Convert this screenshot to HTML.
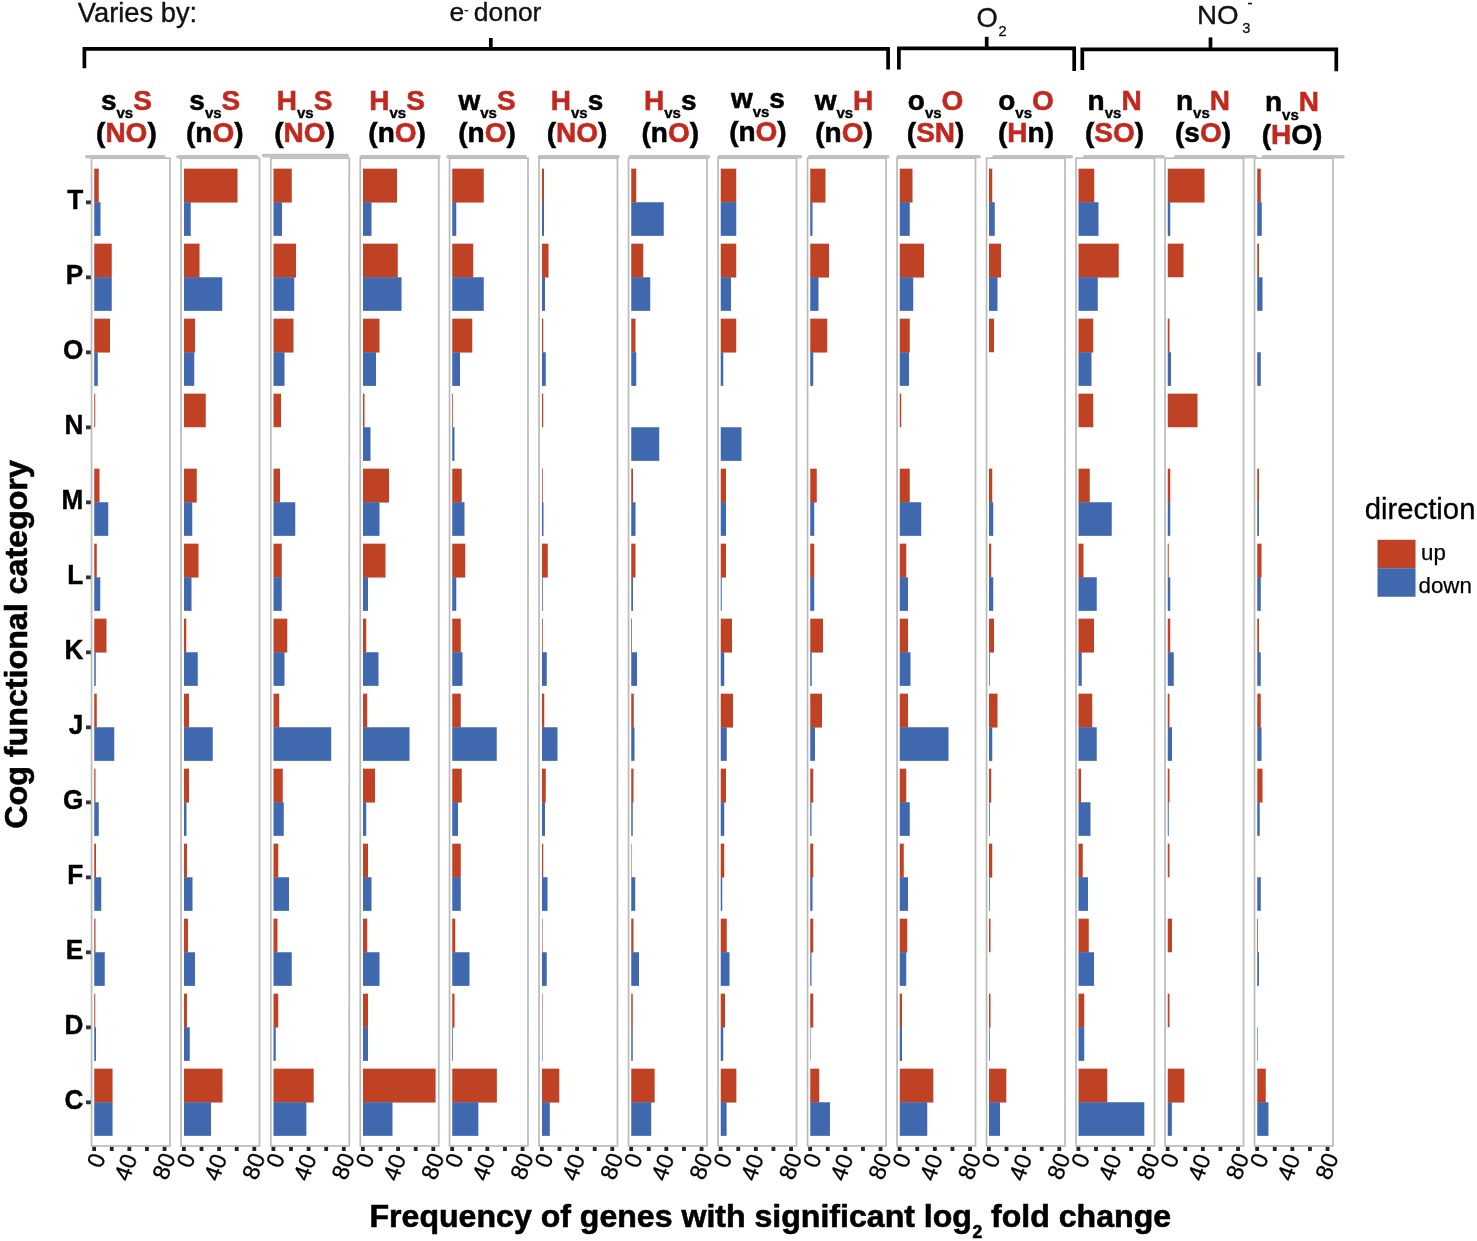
<!DOCTYPE html>
<html><head><meta charset="utf-8"><title>COG functional category frequency</title>
<style>
html,body{margin:0;padding:0;background:#fff;}
body{width:1477px;height:1241px;overflow:hidden;}
svg{display:block;font-family:"Liberation Sans",sans-serif;}
.b{font-weight:bold;}
</style></head><body>
<svg width="1477" height="1241" viewBox="0 0 1477 1241">
<rect width="1477" height="1241" fill="#ffffff"/>

<text x="77.8" y="21.8" font-size="27.3" fill="#111" stroke="#111" stroke-width="0.35">Varies by:</text>
<text x="449.5" y="21.2" font-size="26.4" fill="#111" stroke="#111" stroke-width="0.35">e<tspan font-size="13" dy="-7.2">-</tspan><tspan dy="7.2" dx="-2.0"> donor</tspan></text>
<g fill="#111" stroke="#111" stroke-width="0.3">
<text x="976.6" y="26.8" font-size="27.4">O</text><text x="998.6" y="35.6" font-size="14.6">2</text>
<text x="1196.9" y="23.8" font-size="25" textLength="41.6" lengthAdjust="spacingAndGlyphs">NO</text><text x="1242.2" y="32.5" font-size="14.6">3</text><text x="1247.6" y="8.2" font-size="15">-</text>
</g>
<g fill="none" stroke="#000" stroke-width="3.7" stroke-linejoin="miter">
<path d="M84.4 68.2 V48.8 H888.1 V69.6"/><path d="M490.8 48.8 V38.0"/>
<path d="M898.9 69.5 V48.3 H1074.2 V70.9"/><path d="M986.7 48.3 V36.8"/>
<path d="M1082.3 70.1 V49.4 H1336.3 V71.2"/><path d="M1210.5 49.4 V37.4"/>
</g>
<g class="b" font-size="28" text-anchor="middle" stroke-width="0.55">
<text x="126.4" y="109.7"><tspan fill="#000" stroke="#000">s</tspan><tspan font-size="15" dy="8.6" fill="#000" stroke="#000" stroke-width="0.4">vs</tspan><tspan dy="-8.6" fill="#C3271E" stroke="#C3271E">S</tspan></text>
<text x="126.4" y="142.4"><tspan fill="#000" stroke="#000">(</tspan><tspan fill="#C3271E" stroke="#C3271E">NO</tspan><tspan fill="#000" stroke="#000">)</tspan></text>
<text x="214.8" y="109.7"><tspan fill="#000" stroke="#000">s</tspan><tspan font-size="15" dy="8.6" fill="#000" stroke="#000" stroke-width="0.4">vs</tspan><tspan dy="-8.6" fill="#C3271E" stroke="#C3271E">S</tspan></text>
<text x="214.8" y="142.4"><tspan fill="#000" stroke="#000">(n</tspan><tspan fill="#C3271E" stroke="#C3271E">O</tspan><tspan fill="#000" stroke="#000">)</tspan></text>
<text x="304.6" y="109.7"><tspan fill="#C3271E" stroke="#C3271E">H</tspan><tspan font-size="15" dy="8.6" fill="#000" stroke="#000" stroke-width="0.4">vs</tspan><tspan dy="-8.6" fill="#C3271E" stroke="#C3271E">S</tspan></text>
<text x="304.6" y="142.4"><tspan fill="#000" stroke="#000">(</tspan><tspan fill="#C3271E" stroke="#C3271E">NO</tspan><tspan fill="#000" stroke="#000">)</tspan></text>
<text x="397.1" y="109.7"><tspan fill="#C3271E" stroke="#C3271E">H</tspan><tspan font-size="15" dy="8.6" fill="#000" stroke="#000" stroke-width="0.4">vs</tspan><tspan dy="-8.6" fill="#C3271E" stroke="#C3271E">S</tspan></text>
<text x="397.1" y="142.4"><tspan fill="#000" stroke="#000">(n</tspan><tspan fill="#C3271E" stroke="#C3271E">O</tspan><tspan fill="#000" stroke="#000">)</tspan></text>
<text x="487.0" y="109.7"><tspan fill="#000" stroke="#000">w</tspan><tspan font-size="15" dy="8.6" fill="#000" stroke="#000" stroke-width="0.4">vs</tspan><tspan dy="-8.6" fill="#C3271E" stroke="#C3271E">S</tspan></text>
<text x="487.0" y="142.4"><tspan fill="#000" stroke="#000">(n</tspan><tspan fill="#C3271E" stroke="#C3271E">O</tspan><tspan fill="#000" stroke="#000">)</tspan></text>
<text x="577.0" y="109.7"><tspan fill="#C3271E" stroke="#C3271E">H</tspan><tspan font-size="15" dy="8.6" fill="#000" stroke="#000" stroke-width="0.4">vs</tspan><tspan dy="-8.6" fill="#000" stroke="#000">s</tspan></text>
<text x="577.0" y="142.4"><tspan fill="#000" stroke="#000">(</tspan><tspan fill="#C3271E" stroke="#C3271E">NO</tspan><tspan fill="#000" stroke="#000">)</tspan></text>
<text x="670.3" y="109.7"><tspan fill="#C3271E" stroke="#C3271E">H</tspan><tspan font-size="15" dy="8.6" fill="#000" stroke="#000" stroke-width="0.4">vs</tspan><tspan dy="-8.6" fill="#000" stroke="#000">s</tspan></text>
<text x="670.3" y="142.4"><tspan fill="#000" stroke="#000">(n</tspan><tspan fill="#C3271E" stroke="#C3271E">O</tspan><tspan fill="#000" stroke="#000">)</tspan></text>
<text x="757.9" y="107.9"><tspan fill="#000" stroke="#000">w</tspan><tspan font-size="15" dy="8.6" fill="#000" stroke="#000" stroke-width="0.4">vs</tspan><tspan dy="-8.6" fill="#000" stroke="#000">s</tspan></text>
<text x="757.9" y="140.6"><tspan fill="#000" stroke="#000">(n</tspan><tspan fill="#C3271E" stroke="#C3271E">O</tspan><tspan fill="#000" stroke="#000">)</tspan></text>
<text x="844.0" y="109.7"><tspan fill="#000" stroke="#000">w</tspan><tspan font-size="15" dy="8.6" fill="#000" stroke="#000" stroke-width="0.4">vs</tspan><tspan dy="-8.6" fill="#C3271E" stroke="#C3271E">H</tspan></text>
<text x="844.0" y="142.4"><tspan fill="#000" stroke="#000">(n</tspan><tspan fill="#C3271E" stroke="#C3271E">O</tspan><tspan fill="#000" stroke="#000">)</tspan></text>
<text x="935.6" y="109.7"><tspan fill="#000" stroke="#000">o</tspan><tspan font-size="15" dy="8.6" fill="#000" stroke="#000" stroke-width="0.4">vs</tspan><tspan dy="-8.6" fill="#C3271E" stroke="#C3271E">O</tspan></text>
<text x="935.6" y="142.4"><tspan fill="#000" stroke="#000">(</tspan><tspan fill="#C3271E" stroke="#C3271E">SN</tspan><tspan fill="#000" stroke="#000">)</tspan></text>
<text x="1026.0" y="109.7"><tspan fill="#000" stroke="#000">o</tspan><tspan font-size="15" dy="8.6" fill="#000" stroke="#000" stroke-width="0.4">vs</tspan><tspan dy="-8.6" fill="#C3271E" stroke="#C3271E">O</tspan></text>
<text x="1026.0" y="142.4"><tspan fill="#000" stroke="#000">(</tspan><tspan fill="#C3271E" stroke="#C3271E">H</tspan><tspan fill="#000" stroke="#000">n)</tspan></text>
<text x="1114.6" y="109.7"><tspan fill="#000" stroke="#000">n</tspan><tspan font-size="15" dy="8.6" fill="#000" stroke="#000" stroke-width="0.4">vs</tspan><tspan dy="-8.6" fill="#C3271E" stroke="#C3271E">N</tspan></text>
<text x="1114.6" y="142.4"><tspan fill="#000" stroke="#000">(</tspan><tspan fill="#C3271E" stroke="#C3271E">SO</tspan><tspan fill="#000" stroke="#000">)</tspan></text>
<text x="1203.0" y="109.7"><tspan fill="#000" stroke="#000">n</tspan><tspan font-size="15" dy="8.6" fill="#000" stroke="#000" stroke-width="0.4">vs</tspan><tspan dy="-8.6" fill="#C3271E" stroke="#C3271E">N</tspan></text>
<text x="1203.0" y="142.4"><tspan fill="#000" stroke="#000">(s</tspan><tspan fill="#C3271E" stroke="#C3271E">O</tspan><tspan fill="#000" stroke="#000">)</tspan></text>
<text x="1292.0" y="111.2"><tspan fill="#000" stroke="#000">n</tspan><tspan font-size="15" dy="8.6" fill="#000" stroke="#000" stroke-width="0.4">vs</tspan><tspan dy="-8.6" fill="#C3271E" stroke="#C3271E">N</tspan></text>
<text x="1292.0" y="143.9"><tspan fill="#000" stroke="#000">(</tspan><tspan fill="#C3271E" stroke="#C3271E">H</tspan><tspan fill="#000" stroke="#000">O)</tspan></text>
</g>
<g stroke="#c2c2c2" stroke-width="3.6" stroke-linecap="round">
<path d="M86.7 156.7 H164.0"/>
<path d="M177.9 156.7 H256.5"/>
<path d="M263.5 155.6 H347.2"/>
<path d="M361.2 156.7 H438.9"/>
<path d="M448.1 156.7 H525.3"/>
<path d="M539.5 156.7 H618.0"/>
<path d="M630.3 156.7 H708.7"/>
<path d="M719.2 156.7 H800.6"/>
<path d="M809.4 156.7 H887.8"/>
<path d="M898.3 156.7 H979.2"/>
<path d="M994.0 156.7 H1071.2"/>
<path d="M1084.7 156.7 H1163.1"/>
<path d="M1175.6 156.7 H1255.3"/>
<path d="M1263.3 156.7 H1343.0"/>
</g>
<g fill="#fff" stroke="#bbbbbb" stroke-width="1.7">
<rect x="91.55" y="158.2" width="78.45" height="987.80"/>
<rect x="181.05" y="158.2" width="78.45" height="987.80"/>
<rect x="270.80" y="158.2" width="78.45" height="987.80"/>
<rect x="360.30" y="158.2" width="78.45" height="987.80"/>
<rect x="449.55" y="158.2" width="78.45" height="987.80"/>
<rect x="539.05" y="158.2" width="78.45" height="987.80"/>
<rect x="628.55" y="158.2" width="78.45" height="987.80"/>
<rect x="718.05" y="158.2" width="78.45" height="987.80"/>
<rect x="807.55" y="158.2" width="78.45" height="987.80"/>
<rect x="897.05" y="158.2" width="78.45" height="987.80"/>
<rect x="986.55" y="158.2" width="78.45" height="987.80"/>
<rect x="1076.05" y="158.2" width="78.45" height="987.80"/>
<rect x="1165.05" y="158.2" width="78.45" height="987.80"/>
<rect x="1254.55" y="158.2" width="78.45" height="987.80"/>
</g>
<g fill="#BF4225">
<rect x="94.25" y="168.65" width="4.5" height="33.9"/>
<rect x="94.25" y="243.65" width="17.5" height="33.9"/>
<rect x="94.25" y="318.65" width="15.75" height="33.9"/>
<rect x="94.25" y="393.65" width="1.0" height="33.6"/>
<rect x="94.25" y="468.65" width="5.25" height="33.9"/>
<rect x="94.25" y="543.65" width="2.5" height="33.9"/>
<rect x="94.25" y="618.65" width="12.25" height="33.9"/>
<rect x="94.25" y="693.65" width="2.5" height="33.9"/>
<rect x="94.25" y="768.65" width="1.25" height="33.9"/>
<rect x="94.25" y="843.65" width="1.75" height="33.9"/>
<rect x="94.25" y="918.65" width="1.25" height="33.9"/>
<rect x="94.25" y="993.65" width="1.0" height="33.9"/>
<rect x="94.25" y="1068.65" width="18.3" height="33.9"/>
<rect x="184" y="168.65" width="53.5" height="33.9"/>
<rect x="184" y="243.65" width="15.5" height="33.9"/>
<rect x="184" y="318.65" width="11.0" height="33.9"/>
<rect x="184" y="393.65" width="21.75" height="33.6"/>
<rect x="184" y="468.65" width="12.75" height="33.9"/>
<rect x="184" y="543.65" width="14.5" height="33.9"/>
<rect x="184" y="618.65" width="2.25" height="33.9"/>
<rect x="184" y="693.65" width="5.0" height="33.9"/>
<rect x="184" y="768.65" width="5.0" height="33.9"/>
<rect x="184" y="843.65" width="3.0" height="33.9"/>
<rect x="184" y="918.65" width="4.0" height="33.9"/>
<rect x="184" y="993.65" width="3.0" height="33.9"/>
<rect x="184" y="1068.65" width="38.5" height="33.9"/>
<rect x="273.5" y="168.65" width="18.25" height="33.9"/>
<rect x="273.5" y="243.65" width="22.5" height="33.9"/>
<rect x="273.5" y="318.65" width="20.0" height="33.9"/>
<rect x="273.5" y="393.65" width="7.5" height="33.6"/>
<rect x="273.5" y="468.65" width="6.5" height="33.9"/>
<rect x="273.5" y="543.65" width="8.25" height="33.9"/>
<rect x="273.5" y="618.65" width="13.75" height="33.9"/>
<rect x="273.5" y="693.65" width="5.75" height="33.9"/>
<rect x="273.5" y="768.65" width="9.25" height="33.9"/>
<rect x="273.5" y="843.65" width="4.75" height="33.9"/>
<rect x="273.5" y="918.65" width="4.0" height="33.9"/>
<rect x="273.5" y="993.65" width="4.75" height="33.9"/>
<rect x="273.5" y="1068.65" width="40.2" height="33.9"/>
<rect x="363" y="168.65" width="34.0" height="33.9"/>
<rect x="363" y="243.65" width="34.75" height="33.9"/>
<rect x="363" y="318.65" width="16.5" height="33.9"/>
<rect x="363" y="393.65" width="1.5" height="33.9"/>
<rect x="363" y="468.65" width="26.0" height="33.9"/>
<rect x="363" y="543.65" width="22.5" height="33.9"/>
<rect x="363" y="618.65" width="3.25" height="33.9"/>
<rect x="363" y="693.65" width="4.25" height="33.9"/>
<rect x="363" y="768.65" width="12.0" height="33.9"/>
<rect x="363" y="843.65" width="5.0" height="33.9"/>
<rect x="363" y="918.65" width="4.25" height="33.9"/>
<rect x="363" y="993.65" width="5.0" height="33.9"/>
<rect x="363" y="1068.65" width="72.6" height="33.9"/>
<rect x="452.25" y="168.65" width="31.5" height="33.9"/>
<rect x="452.25" y="243.65" width="21.0" height="33.9"/>
<rect x="452.25" y="318.65" width="20.0" height="33.9"/>
<rect x="452.25" y="393.65" width="0.75" height="33.9"/>
<rect x="452.25" y="468.65" width="9.5" height="33.9"/>
<rect x="452.25" y="543.65" width="13.0" height="33.9"/>
<rect x="452.25" y="618.65" width="8.5" height="33.9"/>
<rect x="452.25" y="693.65" width="8.5" height="33.9"/>
<rect x="452.25" y="768.65" width="9.5" height="33.9"/>
<rect x="452.25" y="843.65" width="8.5" height="33.9"/>
<rect x="452.25" y="918.65" width="3.0" height="33.9"/>
<rect x="452.25" y="993.65" width="2.25" height="33.9"/>
<rect x="452.25" y="1068.65" width="44.6" height="33.9"/>
<rect x="542" y="168.65" width="2.0" height="33.9"/>
<rect x="542" y="243.65" width="6.5" height="33.9"/>
<rect x="542" y="318.65" width="1.25" height="33.9"/>
<rect x="542" y="393.65" width="1.25" height="33.6"/>
<rect x="542" y="468.65" width="0.75" height="33.9"/>
<rect x="542" y="543.65" width="5.75" height="33.9"/>
<rect x="542" y="618.65" width="0.75" height="33.9"/>
<rect x="542" y="693.65" width="2.25" height="33.9"/>
<rect x="542" y="768.65" width="3.75" height="33.9"/>
<rect x="542" y="843.65" width="1.25" height="33.9"/>
<rect x="542" y="918.65" width="0.5" height="33.9"/>
<rect x="542" y="993.65" width="0.5" height="33.9"/>
<rect x="542" y="1068.65" width="17.3" height="33.9"/>
<rect x="631.25" y="168.65" width="5.0" height="33.9"/>
<rect x="631.25" y="243.65" width="12.0" height="33.9"/>
<rect x="631.25" y="318.65" width="4.25" height="33.9"/>
<rect x="631.25" y="468.65" width="1.75" height="33.9"/>
<rect x="631.25" y="543.65" width="4.25" height="33.9"/>
<rect x="631.25" y="618.65" width="0.75" height="33.9"/>
<rect x="631.25" y="693.65" width="2.5" height="33.9"/>
<rect x="631.25" y="768.65" width="2.25" height="33.9"/>
<rect x="631.25" y="843.65" width="0.5" height="33.9"/>
<rect x="631.25" y="918.65" width="2.25" height="33.9"/>
<rect x="631.25" y="993.65" width="1.5" height="33.9"/>
<rect x="631.25" y="1068.65" width="23.4" height="33.9"/>
<rect x="720.75" y="168.65" width="15.5" height="33.9"/>
<rect x="720.75" y="243.65" width="15.5" height="33.9"/>
<rect x="720.75" y="318.65" width="15.5" height="33.9"/>
<rect x="720.75" y="468.65" width="5.25" height="33.9"/>
<rect x="720.75" y="543.65" width="5.25" height="33.9"/>
<rect x="720.75" y="618.65" width="11.25" height="33.9"/>
<rect x="720.75" y="693.65" width="12.25" height="33.9"/>
<rect x="720.75" y="768.65" width="5.25" height="33.9"/>
<rect x="720.75" y="843.65" width="3.5" height="33.9"/>
<rect x="720.75" y="918.65" width="6.0" height="33.9"/>
<rect x="720.75" y="993.65" width="4.25" height="33.9"/>
<rect x="720.75" y="1068.65" width="15.6" height="33.9"/>
<rect x="810.25" y="168.65" width="15.25" height="33.9"/>
<rect x="810.25" y="243.65" width="18.75" height="33.9"/>
<rect x="810.25" y="318.65" width="17.0" height="33.9"/>
<rect x="810.25" y="468.65" width="6.5" height="33.9"/>
<rect x="810.25" y="543.65" width="4.0" height="33.9"/>
<rect x="810.25" y="618.65" width="12.75" height="33.9"/>
<rect x="810.25" y="693.65" width="11.75" height="33.9"/>
<rect x="810.25" y="768.65" width="3.0" height="33.9"/>
<rect x="810.25" y="843.65" width="3.0" height="33.9"/>
<rect x="810.25" y="918.65" width="3.0" height="33.9"/>
<rect x="810.25" y="993.65" width="3.0" height="33.9"/>
<rect x="810.25" y="1068.65" width="9.0" height="33.9"/>
<rect x="899.75" y="168.65" width="12.75" height="33.9"/>
<rect x="899.75" y="243.65" width="24.25" height="33.9"/>
<rect x="899.75" y="318.65" width="10.0" height="33.9"/>
<rect x="899.75" y="393.65" width="1.5" height="33.6"/>
<rect x="899.75" y="468.65" width="10.0" height="33.9"/>
<rect x="899.75" y="543.65" width="6.5" height="33.9"/>
<rect x="899.75" y="618.65" width="8.25" height="33.9"/>
<rect x="899.75" y="693.65" width="8.25" height="33.9"/>
<rect x="899.75" y="768.65" width="6.5" height="33.9"/>
<rect x="899.75" y="843.65" width="4.0" height="33.9"/>
<rect x="899.75" y="918.65" width="7.5" height="33.9"/>
<rect x="899.75" y="993.65" width="2.25" height="33.9"/>
<rect x="899.75" y="1068.65" width="33.6" height="33.9"/>
<rect x="989" y="168.65" width="3.25" height="33.9"/>
<rect x="989" y="243.65" width="12.0" height="33.9"/>
<rect x="989" y="318.65" width="5.0" height="33.6"/>
<rect x="989" y="468.65" width="3.25" height="33.9"/>
<rect x="989" y="543.65" width="2.25" height="33.9"/>
<rect x="989" y="618.65" width="5.0" height="33.9"/>
<rect x="989" y="693.65" width="8.5" height="33.9"/>
<rect x="989" y="768.65" width="2.25" height="33.9"/>
<rect x="989" y="843.65" width="3.25" height="33.9"/>
<rect x="989" y="918.65" width="1.5" height="33.6"/>
<rect x="989" y="993.65" width="1.5" height="33.9"/>
<rect x="989" y="1068.65" width="17.3" height="33.9"/>
<rect x="1078.5" y="168.65" width="15.75" height="33.9"/>
<rect x="1078.5" y="243.65" width="40.25" height="33.9"/>
<rect x="1078.5" y="318.65" width="14.75" height="33.9"/>
<rect x="1078.5" y="393.65" width="14.75" height="33.6"/>
<rect x="1078.5" y="468.65" width="11.25" height="33.9"/>
<rect x="1078.5" y="543.65" width="5.0" height="33.9"/>
<rect x="1078.5" y="618.65" width="15.5" height="33.9"/>
<rect x="1078.5" y="693.65" width="13.75" height="33.9"/>
<rect x="1078.5" y="768.65" width="2.5" height="33.9"/>
<rect x="1078.5" y="843.65" width="4.25" height="33.9"/>
<rect x="1078.5" y="918.65" width="10.25" height="33.9"/>
<rect x="1078.5" y="993.65" width="5.75" height="33.9"/>
<rect x="1078.5" y="1068.65" width="28.8" height="33.9"/>
<rect x="1167.75" y="168.65" width="36.75" height="33.9"/>
<rect x="1167.75" y="243.65" width="15.75" height="33.6"/>
<rect x="1167.75" y="318.65" width="1.75" height="33.9"/>
<rect x="1167.75" y="393.65" width="29.75" height="33.6"/>
<rect x="1167.75" y="468.65" width="2.5" height="33.9"/>
<rect x="1167.75" y="543.65" width="1.0" height="33.9"/>
<rect x="1167.75" y="618.65" width="2.5" height="33.9"/>
<rect x="1167.75" y="693.65" width="1.75" height="33.9"/>
<rect x="1167.75" y="768.65" width="1.75" height="33.9"/>
<rect x="1167.75" y="843.65" width="1.75" height="33.6"/>
<rect x="1167.75" y="918.65" width="4.25" height="33.6"/>
<rect x="1167.75" y="993.65" width="1.75" height="33.6"/>
<rect x="1167.75" y="1068.65" width="16.6" height="33.9"/>
<rect x="1257.25" y="168.65" width="3.5" height="33.9"/>
<rect x="1257.25" y="243.65" width="1.75" height="33.9"/>
<rect x="1257.25" y="468.65" width="1.75" height="33.9"/>
<rect x="1257.25" y="543.65" width="4.25" height="33.9"/>
<rect x="1257.25" y="618.65" width="1.75" height="33.9"/>
<rect x="1257.25" y="693.65" width="3.5" height="33.9"/>
<rect x="1257.25" y="768.65" width="5.25" height="33.9"/>
<rect x="1257.25" y="918.65" width="0.75" height="33.9"/>
<rect x="1257.25" y="1068.65" width="8.5" height="33.9"/>
</g>
<g fill="#3F68AE">
<rect x="94.25" y="202.25" width="6.25" height="33.6"/>
<rect x="94.25" y="277.25" width="17.5" height="33.6"/>
<rect x="94.25" y="352.25" width="3.5" height="33.6"/>
<rect x="94.25" y="502.25" width="14.0" height="33.6"/>
<rect x="94.25" y="577.25" width="6.0" height="33.6"/>
<rect x="94.25" y="652.25" width="1.5" height="33.6"/>
<rect x="94.25" y="727.25" width="20.0" height="33.6"/>
<rect x="94.25" y="802.25" width="4.5" height="33.6"/>
<rect x="94.25" y="877.25" width="7.0" height="33.6"/>
<rect x="94.25" y="952.25" width="10.5" height="33.6"/>
<rect x="94.25" y="1027.25" width="1.75" height="33.6"/>
<rect x="94.25" y="1102.25" width="18.3" height="33.6"/>
<rect x="184" y="202.25" width="6.75" height="33.6"/>
<rect x="184" y="277.25" width="38.25" height="33.6"/>
<rect x="184" y="352.25" width="10.25" height="33.6"/>
<rect x="184" y="502.25" width="8.25" height="33.6"/>
<rect x="184" y="577.25" width="7.5" height="33.6"/>
<rect x="184" y="652.25" width="13.75" height="33.6"/>
<rect x="184" y="727.25" width="28.75" height="33.6"/>
<rect x="184" y="802.25" width="2.5" height="33.6"/>
<rect x="184" y="877.25" width="8.5" height="33.6"/>
<rect x="184" y="952.25" width="11.0" height="33.6"/>
<rect x="184" y="1027.25" width="5.75" height="33.6"/>
<rect x="184" y="1102.25" width="27.0" height="33.6"/>
<rect x="273.5" y="202.25" width="8.5" height="33.6"/>
<rect x="273.5" y="277.25" width="20.75" height="33.6"/>
<rect x="273.5" y="352.25" width="11.0" height="33.6"/>
<rect x="273.5" y="502.25" width="21.75" height="33.6"/>
<rect x="273.5" y="577.25" width="8.25" height="33.6"/>
<rect x="273.5" y="652.25" width="11.0" height="33.6"/>
<rect x="273.5" y="727.25" width="57.75" height="33.6"/>
<rect x="273.5" y="802.25" width="10.25" height="33.6"/>
<rect x="273.5" y="877.25" width="15.5" height="33.6"/>
<rect x="273.5" y="952.25" width="18.25" height="33.6"/>
<rect x="273.5" y="1027.25" width="2.25" height="33.6"/>
<rect x="273.5" y="1102.25" width="32.9" height="33.6"/>
<rect x="363" y="202.25" width="8.5" height="33.6"/>
<rect x="363" y="277.25" width="38.5" height="33.6"/>
<rect x="363" y="352.25" width="13.0" height="33.6"/>
<rect x="363" y="427.25" width="7.5" height="33.6"/>
<rect x="363" y="502.25" width="16.5" height="33.6"/>
<rect x="363" y="577.25" width="5.0" height="33.6"/>
<rect x="363" y="652.25" width="15.5" height="33.6"/>
<rect x="363" y="727.25" width="46.5" height="33.6"/>
<rect x="363" y="802.25" width="3.25" height="33.6"/>
<rect x="363" y="877.25" width="8.5" height="33.6"/>
<rect x="363" y="952.25" width="16.5" height="33.6"/>
<rect x="363" y="1027.25" width="5.0" height="33.6"/>
<rect x="363" y="1102.25" width="29.5" height="33.6"/>
<rect x="452.25" y="202.25" width="4.0" height="33.6"/>
<rect x="452.25" y="277.25" width="31.5" height="33.6"/>
<rect x="452.25" y="352.25" width="7.75" height="33.6"/>
<rect x="452.25" y="427.25" width="2.25" height="33.6"/>
<rect x="452.25" y="502.25" width="12.25" height="33.6"/>
<rect x="452.25" y="577.25" width="4.0" height="33.6"/>
<rect x="452.25" y="652.25" width="10.25" height="33.6"/>
<rect x="452.25" y="727.25" width="44.5" height="33.6"/>
<rect x="452.25" y="802.25" width="5.75" height="33.6"/>
<rect x="452.25" y="877.25" width="8.5" height="33.6"/>
<rect x="452.25" y="952.25" width="17.25" height="33.6"/>
<rect x="452.25" y="1027.25" width="0.75" height="33.6"/>
<rect x="452.25" y="1102.25" width="26.1" height="33.6"/>
<rect x="542" y="202.25" width="2.0" height="33.6"/>
<rect x="542" y="277.25" width="3.0" height="33.6"/>
<rect x="542" y="352.25" width="3.75" height="33.6"/>
<rect x="542" y="502.25" width="1.5" height="33.6"/>
<rect x="542" y="577.25" width="0.75" height="33.6"/>
<rect x="542" y="652.25" width="4.75" height="33.6"/>
<rect x="542" y="727.25" width="15.5" height="33.6"/>
<rect x="542" y="802.25" width="3.0" height="33.6"/>
<rect x="542" y="877.25" width="5.5" height="33.6"/>
<rect x="542" y="952.25" width="4.75" height="33.6"/>
<rect x="542" y="1027.25" width="0.5" height="33.6"/>
<rect x="542" y="1102.25" width="7.8" height="33.6"/>
<rect x="631.25" y="202.25" width="32.5" height="33.6"/>
<rect x="631.25" y="277.25" width="19.0" height="33.6"/>
<rect x="631.25" y="352.25" width="5.0" height="33.6"/>
<rect x="631.25" y="427.25" width="28.0" height="33.6"/>
<rect x="631.25" y="502.25" width="4.25" height="33.6"/>
<rect x="631.25" y="577.25" width="1.75" height="33.6"/>
<rect x="631.25" y="652.25" width="5.75" height="33.6"/>
<rect x="631.25" y="727.25" width="3.25" height="33.6"/>
<rect x="631.25" y="802.25" width="1.5" height="33.6"/>
<rect x="631.25" y="877.25" width="4.0" height="33.6"/>
<rect x="631.25" y="952.25" width="7.75" height="33.6"/>
<rect x="631.25" y="1027.25" width="1.5" height="33.6"/>
<rect x="631.25" y="1102.25" width="20.0" height="33.6"/>
<rect x="720.75" y="202.25" width="15.5" height="33.6"/>
<rect x="720.75" y="277.25" width="10.25" height="33.6"/>
<rect x="720.75" y="352.25" width="2.5" height="33.6"/>
<rect x="720.75" y="427.25" width="20.75" height="33.6"/>
<rect x="720.75" y="502.25" width="5.25" height="33.6"/>
<rect x="720.75" y="577.25" width="1.0" height="33.6"/>
<rect x="720.75" y="652.25" width="3.5" height="33.6"/>
<rect x="720.75" y="727.25" width="6.0" height="33.6"/>
<rect x="720.75" y="802.25" width="3.5" height="33.6"/>
<rect x="720.75" y="877.25" width="1.5" height="33.6"/>
<rect x="720.75" y="952.25" width="8.75" height="33.6"/>
<rect x="720.75" y="1027.25" width="2.5" height="33.6"/>
<rect x="720.75" y="1102.25" width="5.85" height="33.6"/>
<rect x="810.25" y="202.25" width="2.25" height="33.6"/>
<rect x="810.25" y="277.25" width="8.25" height="33.6"/>
<rect x="810.25" y="352.25" width="3.0" height="33.6"/>
<rect x="810.25" y="502.25" width="4.0" height="33.6"/>
<rect x="810.25" y="577.25" width="4.0" height="33.6"/>
<rect x="810.25" y="652.25" width="1.5" height="33.6"/>
<rect x="810.25" y="727.25" width="4.75" height="33.6"/>
<rect x="810.25" y="802.25" width="1.25" height="33.6"/>
<rect x="810.25" y="877.25" width="2.25" height="33.6"/>
<rect x="810.25" y="952.25" width="1.25" height="33.6"/>
<rect x="810.25" y="1027.25" width="0.5" height="33.6"/>
<rect x="810.25" y="1102.25" width="19.7" height="33.6"/>
<rect x="899.75" y="202.25" width="10.0" height="33.6"/>
<rect x="899.75" y="277.25" width="13.5" height="33.6"/>
<rect x="899.75" y="352.25" width="9.25" height="33.6"/>
<rect x="899.75" y="502.25" width="21.5" height="33.6"/>
<rect x="899.75" y="577.25" width="8.25" height="33.6"/>
<rect x="899.75" y="652.25" width="10.75" height="33.6"/>
<rect x="899.75" y="727.25" width="48.75" height="33.6"/>
<rect x="899.75" y="802.25" width="10.0" height="33.6"/>
<rect x="899.75" y="877.25" width="8.25" height="33.6"/>
<rect x="899.75" y="952.25" width="6.5" height="33.6"/>
<rect x="899.75" y="1027.25" width="2.25" height="33.6"/>
<rect x="899.75" y="1102.25" width="27.5" height="33.6"/>
<rect x="989" y="202.25" width="5.75" height="33.6"/>
<rect x="989" y="277.25" width="8.5" height="33.6"/>
<rect x="989" y="502.25" width="4.25" height="33.6"/>
<rect x="989" y="577.25" width="4.25" height="33.6"/>
<rect x="989" y="652.25" width="0.75" height="33.6"/>
<rect x="989" y="727.25" width="3.25" height="33.6"/>
<rect x="989" y="802.25" width="0.75" height="33.6"/>
<rect x="989" y="877.25" width="0.75" height="33.6"/>
<rect x="989" y="1027.25" width="0.75" height="33.6"/>
<rect x="989" y="1102.25" width="11.0" height="33.6"/>
<rect x="1078.5" y="202.25" width="20.0" height="33.6"/>
<rect x="1078.5" y="277.25" width="19.25" height="33.6"/>
<rect x="1078.5" y="352.25" width="13.0" height="33.6"/>
<rect x="1078.5" y="502.25" width="33.25" height="33.6"/>
<rect x="1078.5" y="577.25" width="18.25" height="33.6"/>
<rect x="1078.5" y="652.25" width="3.25" height="33.6"/>
<rect x="1078.5" y="727.25" width="18.25" height="33.6"/>
<rect x="1078.5" y="802.25" width="12.0" height="33.6"/>
<rect x="1078.5" y="877.25" width="9.5" height="33.6"/>
<rect x="1078.5" y="952.25" width="15.5" height="33.6"/>
<rect x="1078.5" y="1027.25" width="5.75" height="33.6"/>
<rect x="1078.5" y="1102.25" width="65.8" height="33.6"/>
<rect x="1167.75" y="202.25" width="2.5" height="33.6"/>
<rect x="1167.75" y="352.25" width="3.25" height="33.6"/>
<rect x="1167.75" y="502.25" width="2.5" height="33.6"/>
<rect x="1167.75" y="577.25" width="2.5" height="33.6"/>
<rect x="1167.75" y="652.25" width="6.0" height="33.6"/>
<rect x="1167.75" y="727.25" width="4.25" height="33.6"/>
<rect x="1167.75" y="802.25" width="1.0" height="33.6"/>
<rect x="1167.75" y="1102.25" width="4.1" height="33.6"/>
<rect x="1257.25" y="202.25" width="4.5" height="33.6"/>
<rect x="1257.25" y="277.25" width="5.25" height="33.6"/>
<rect x="1257.25" y="352.25" width="3.5" height="33.6"/>
<rect x="1257.25" y="502.25" width="1.75" height="33.6"/>
<rect x="1257.25" y="577.25" width="3.5" height="33.6"/>
<rect x="1257.25" y="652.25" width="3.5" height="33.6"/>
<rect x="1257.25" y="727.25" width="4.25" height="33.6"/>
<rect x="1257.25" y="802.25" width="2.5" height="33.6"/>
<rect x="1257.25" y="877.25" width="3.5" height="33.6"/>
<rect x="1257.25" y="952.25" width="1.75" height="33.6"/>
<rect x="1257.25" y="1027.25" width="0.6" height="33.6"/>
<rect x="1257.25" y="1102.25" width="11.2" height="33.6"/>
</g>
<g fill="#333">
<rect x="86.0" y="200.45" width="4.8" height="3.8"/>
<rect x="86.0" y="275.45" width="4.8" height="3.8"/>
<rect x="86.0" y="350.45" width="4.8" height="3.8"/>
<rect x="86.0" y="425.45" width="4.8" height="3.8"/>
<rect x="86.0" y="500.45" width="4.8" height="3.8"/>
<rect x="86.0" y="575.45" width="4.8" height="3.8"/>
<rect x="86.0" y="650.45" width="4.8" height="3.8"/>
<rect x="86.0" y="725.45" width="4.8" height="3.8"/>
<rect x="86.0" y="800.45" width="4.8" height="3.8"/>
<rect x="86.0" y="875.45" width="4.8" height="3.8"/>
<rect x="86.0" y="950.45" width="4.8" height="3.8"/>
<rect x="86.0" y="1025.45" width="4.8" height="3.8"/>
<rect x="86.0" y="1100.45" width="4.8" height="3.8"/>
</g>
<g class="b" font-size="27.4" text-anchor="end" fill="#000" stroke="#000" stroke-width="0.45">
<text transform="translate(83.3 209.45) scale(0.955 1)">T</text>
<text transform="translate(83.3 284.45) scale(0.955 1)">P</text>
<text transform="translate(83.3 359.45) scale(0.955 1)">O</text>
<text transform="translate(83.3 434.45) scale(0.955 1)">N</text>
<text transform="translate(83.3 509.45) scale(0.955 1)">M</text>
<text transform="translate(83.3 584.45) scale(0.955 1)">L</text>
<text transform="translate(83.3 659.45) scale(0.955 1)">K</text>
<text transform="translate(83.3 734.45) scale(0.955 1)">J</text>
<text transform="translate(83.3 809.45) scale(0.955 1)">G</text>
<text transform="translate(83.3 884.45) scale(0.955 1)">F</text>
<text transform="translate(83.3 959.45) scale(0.955 1)">E</text>
<text transform="translate(83.3 1034.45) scale(0.955 1)">D</text>
<text transform="translate(83.3 1109.45) scale(0.955 1)">C</text>
</g>
<g fill="#222">
<rect x="92.25" y="1146.9" width="3.8" height="4.1"/>
<rect x="109.85" y="1146.9" width="3.8" height="4.1"/>
<rect x="127.45" y="1146.9" width="3.8" height="4.1"/>
<rect x="145.05" y="1146.9" width="3.8" height="4.1"/>
<rect x="162.65" y="1146.9" width="3.8" height="4.1"/>
<rect x="182.00" y="1146.9" width="3.8" height="4.1"/>
<rect x="199.60" y="1146.9" width="3.8" height="4.1"/>
<rect x="217.20" y="1146.9" width="3.8" height="4.1"/>
<rect x="234.80" y="1146.9" width="3.8" height="4.1"/>
<rect x="252.40" y="1146.9" width="3.8" height="4.1"/>
<rect x="271.50" y="1146.9" width="3.8" height="4.1"/>
<rect x="289.10" y="1146.9" width="3.8" height="4.1"/>
<rect x="306.70" y="1146.9" width="3.8" height="4.1"/>
<rect x="324.30" y="1146.9" width="3.8" height="4.1"/>
<rect x="341.90" y="1146.9" width="3.8" height="4.1"/>
<rect x="361.00" y="1146.9" width="3.8" height="4.1"/>
<rect x="378.60" y="1146.9" width="3.8" height="4.1"/>
<rect x="396.20" y="1146.9" width="3.8" height="4.1"/>
<rect x="413.80" y="1146.9" width="3.8" height="4.1"/>
<rect x="431.40" y="1146.9" width="3.8" height="4.1"/>
<rect x="450.25" y="1146.9" width="3.8" height="4.1"/>
<rect x="467.85" y="1146.9" width="3.8" height="4.1"/>
<rect x="485.45" y="1146.9" width="3.8" height="4.1"/>
<rect x="503.05" y="1146.9" width="3.8" height="4.1"/>
<rect x="520.65" y="1146.9" width="3.8" height="4.1"/>
<rect x="540.00" y="1146.9" width="3.8" height="4.1"/>
<rect x="557.60" y="1146.9" width="3.8" height="4.1"/>
<rect x="575.20" y="1146.9" width="3.8" height="4.1"/>
<rect x="592.80" y="1146.9" width="3.8" height="4.1"/>
<rect x="610.40" y="1146.9" width="3.8" height="4.1"/>
<rect x="629.25" y="1146.9" width="3.8" height="4.1"/>
<rect x="646.85" y="1146.9" width="3.8" height="4.1"/>
<rect x="664.45" y="1146.9" width="3.8" height="4.1"/>
<rect x="682.05" y="1146.9" width="3.8" height="4.1"/>
<rect x="699.65" y="1146.9" width="3.8" height="4.1"/>
<rect x="718.75" y="1146.9" width="3.8" height="4.1"/>
<rect x="736.35" y="1146.9" width="3.8" height="4.1"/>
<rect x="753.95" y="1146.9" width="3.8" height="4.1"/>
<rect x="771.55" y="1146.9" width="3.8" height="4.1"/>
<rect x="789.15" y="1146.9" width="3.8" height="4.1"/>
<rect x="808.25" y="1146.9" width="3.8" height="4.1"/>
<rect x="825.85" y="1146.9" width="3.8" height="4.1"/>
<rect x="843.45" y="1146.9" width="3.8" height="4.1"/>
<rect x="861.05" y="1146.9" width="3.8" height="4.1"/>
<rect x="878.65" y="1146.9" width="3.8" height="4.1"/>
<rect x="897.75" y="1146.9" width="3.8" height="4.1"/>
<rect x="915.35" y="1146.9" width="3.8" height="4.1"/>
<rect x="932.95" y="1146.9" width="3.8" height="4.1"/>
<rect x="950.55" y="1146.9" width="3.8" height="4.1"/>
<rect x="968.15" y="1146.9" width="3.8" height="4.1"/>
<rect x="987.00" y="1146.9" width="3.8" height="4.1"/>
<rect x="1004.60" y="1146.9" width="3.8" height="4.1"/>
<rect x="1022.20" y="1146.9" width="3.8" height="4.1"/>
<rect x="1039.80" y="1146.9" width="3.8" height="4.1"/>
<rect x="1057.40" y="1146.9" width="3.8" height="4.1"/>
<rect x="1076.50" y="1146.9" width="3.8" height="4.1"/>
<rect x="1094.10" y="1146.9" width="3.8" height="4.1"/>
<rect x="1111.70" y="1146.9" width="3.8" height="4.1"/>
<rect x="1129.30" y="1146.9" width="3.8" height="4.1"/>
<rect x="1146.90" y="1146.9" width="3.8" height="4.1"/>
<rect x="1165.75" y="1146.9" width="3.8" height="4.1"/>
<rect x="1183.35" y="1146.9" width="3.8" height="4.1"/>
<rect x="1200.95" y="1146.9" width="3.8" height="4.1"/>
<rect x="1218.55" y="1146.9" width="3.8" height="4.1"/>
<rect x="1236.15" y="1146.9" width="3.8" height="4.1"/>
<rect x="1255.25" y="1146.9" width="3.8" height="4.1"/>
<rect x="1272.85" y="1146.9" width="3.8" height="4.1"/>
<rect x="1290.45" y="1146.9" width="3.8" height="4.1"/>
<rect x="1308.05" y="1146.9" width="3.8" height="4.1"/>
<rect x="1325.65" y="1146.9" width="3.8" height="4.1"/>
</g>
<g font-size="23.4" text-anchor="end" fill="#000" stroke="#000" stroke-width="0.3">
<text transform="translate(106.05 1157.0) rotate(-70)">0</text>
<text transform="translate(137.75 1157.8) rotate(-70)">40</text>
<text transform="translate(175.85 1156.7) rotate(-70)">80</text>
<text transform="translate(195.80 1157.0) rotate(-70)">0</text>
<text transform="translate(227.50 1157.8) rotate(-70)">40</text>
<text transform="translate(265.60 1156.7) rotate(-70)">80</text>
<text transform="translate(285.30 1157.0) rotate(-70)">0</text>
<text transform="translate(317.00 1157.8) rotate(-70)">40</text>
<text transform="translate(355.10 1156.7) rotate(-70)">80</text>
<text transform="translate(374.80 1157.0) rotate(-70)">0</text>
<text transform="translate(406.50 1157.8) rotate(-70)">40</text>
<text transform="translate(444.60 1156.7) rotate(-70)">80</text>
<text transform="translate(464.05 1157.0) rotate(-70)">0</text>
<text transform="translate(495.75 1157.8) rotate(-70)">40</text>
<text transform="translate(533.85 1156.7) rotate(-70)">80</text>
<text transform="translate(553.80 1157.0) rotate(-70)">0</text>
<text transform="translate(585.50 1157.8) rotate(-70)">40</text>
<text transform="translate(623.60 1156.7) rotate(-70)">80</text>
<text transform="translate(643.05 1157.0) rotate(-70)">0</text>
<text transform="translate(674.75 1157.8) rotate(-70)">40</text>
<text transform="translate(712.85 1156.7) rotate(-70)">80</text>
<text transform="translate(732.55 1157.0) rotate(-70)">0</text>
<text transform="translate(764.25 1157.8) rotate(-70)">40</text>
<text transform="translate(802.35 1156.7) rotate(-70)">80</text>
<text transform="translate(822.05 1157.0) rotate(-70)">0</text>
<text transform="translate(853.75 1157.8) rotate(-70)">40</text>
<text transform="translate(891.85 1156.7) rotate(-70)">80</text>
<text transform="translate(911.55 1157.0) rotate(-70)">0</text>
<text transform="translate(943.25 1157.8) rotate(-70)">40</text>
<text transform="translate(981.35 1156.7) rotate(-70)">80</text>
<text transform="translate(1000.80 1157.0) rotate(-70)">0</text>
<text transform="translate(1032.50 1157.8) rotate(-70)">40</text>
<text transform="translate(1070.60 1156.7) rotate(-70)">80</text>
<text transform="translate(1090.30 1157.0) rotate(-70)">0</text>
<text transform="translate(1122.00 1157.8) rotate(-70)">40</text>
<text transform="translate(1160.10 1156.7) rotate(-70)">80</text>
<text transform="translate(1179.55 1157.0) rotate(-70)">0</text>
<text transform="translate(1211.25 1157.8) rotate(-70)">40</text>
<text transform="translate(1249.35 1156.7) rotate(-70)">80</text>
<text transform="translate(1269.05 1157.0) rotate(-70)">0</text>
<text transform="translate(1300.75 1157.8) rotate(-70)">40</text>
<text transform="translate(1338.85 1156.7) rotate(-70)">80</text>
</g>
<text class="b" font-size="32" stroke="#000" stroke-width="0.6" transform="translate(26.6 828.7) rotate(-90)" textLength="368.5" lengthAdjust="spacingAndGlyphs">Cog functional category</text>
<text class="b" font-size="32.1" x="369.5" y="1227" stroke="#000" stroke-width="0.6">Frequency of genes with significant log<tspan font-size="17.5" dy="10.8" dx="0.5">2</tspan><tspan dy="-10.8"> fold change</tspan></text>
<text x="1364.7" y="518.6" font-size="29.3" fill="#000" stroke="#000" stroke-width="0.3">direction</text>
<rect x="1377.5" y="539.75" width="38" height="28.5" fill="#BF4225"/>
<rect x="1377.5" y="568.25" width="38" height="28.5" fill="#3F68AE"/>
<text x="1421" y="560.3" font-size="22.3" fill="#000" stroke="#000" stroke-width="0.25">up</text>
<text x="1418.5" y="593.2" font-size="22.3" fill="#000" stroke="#000" stroke-width="0.25">down</text>
</svg></body></html>
